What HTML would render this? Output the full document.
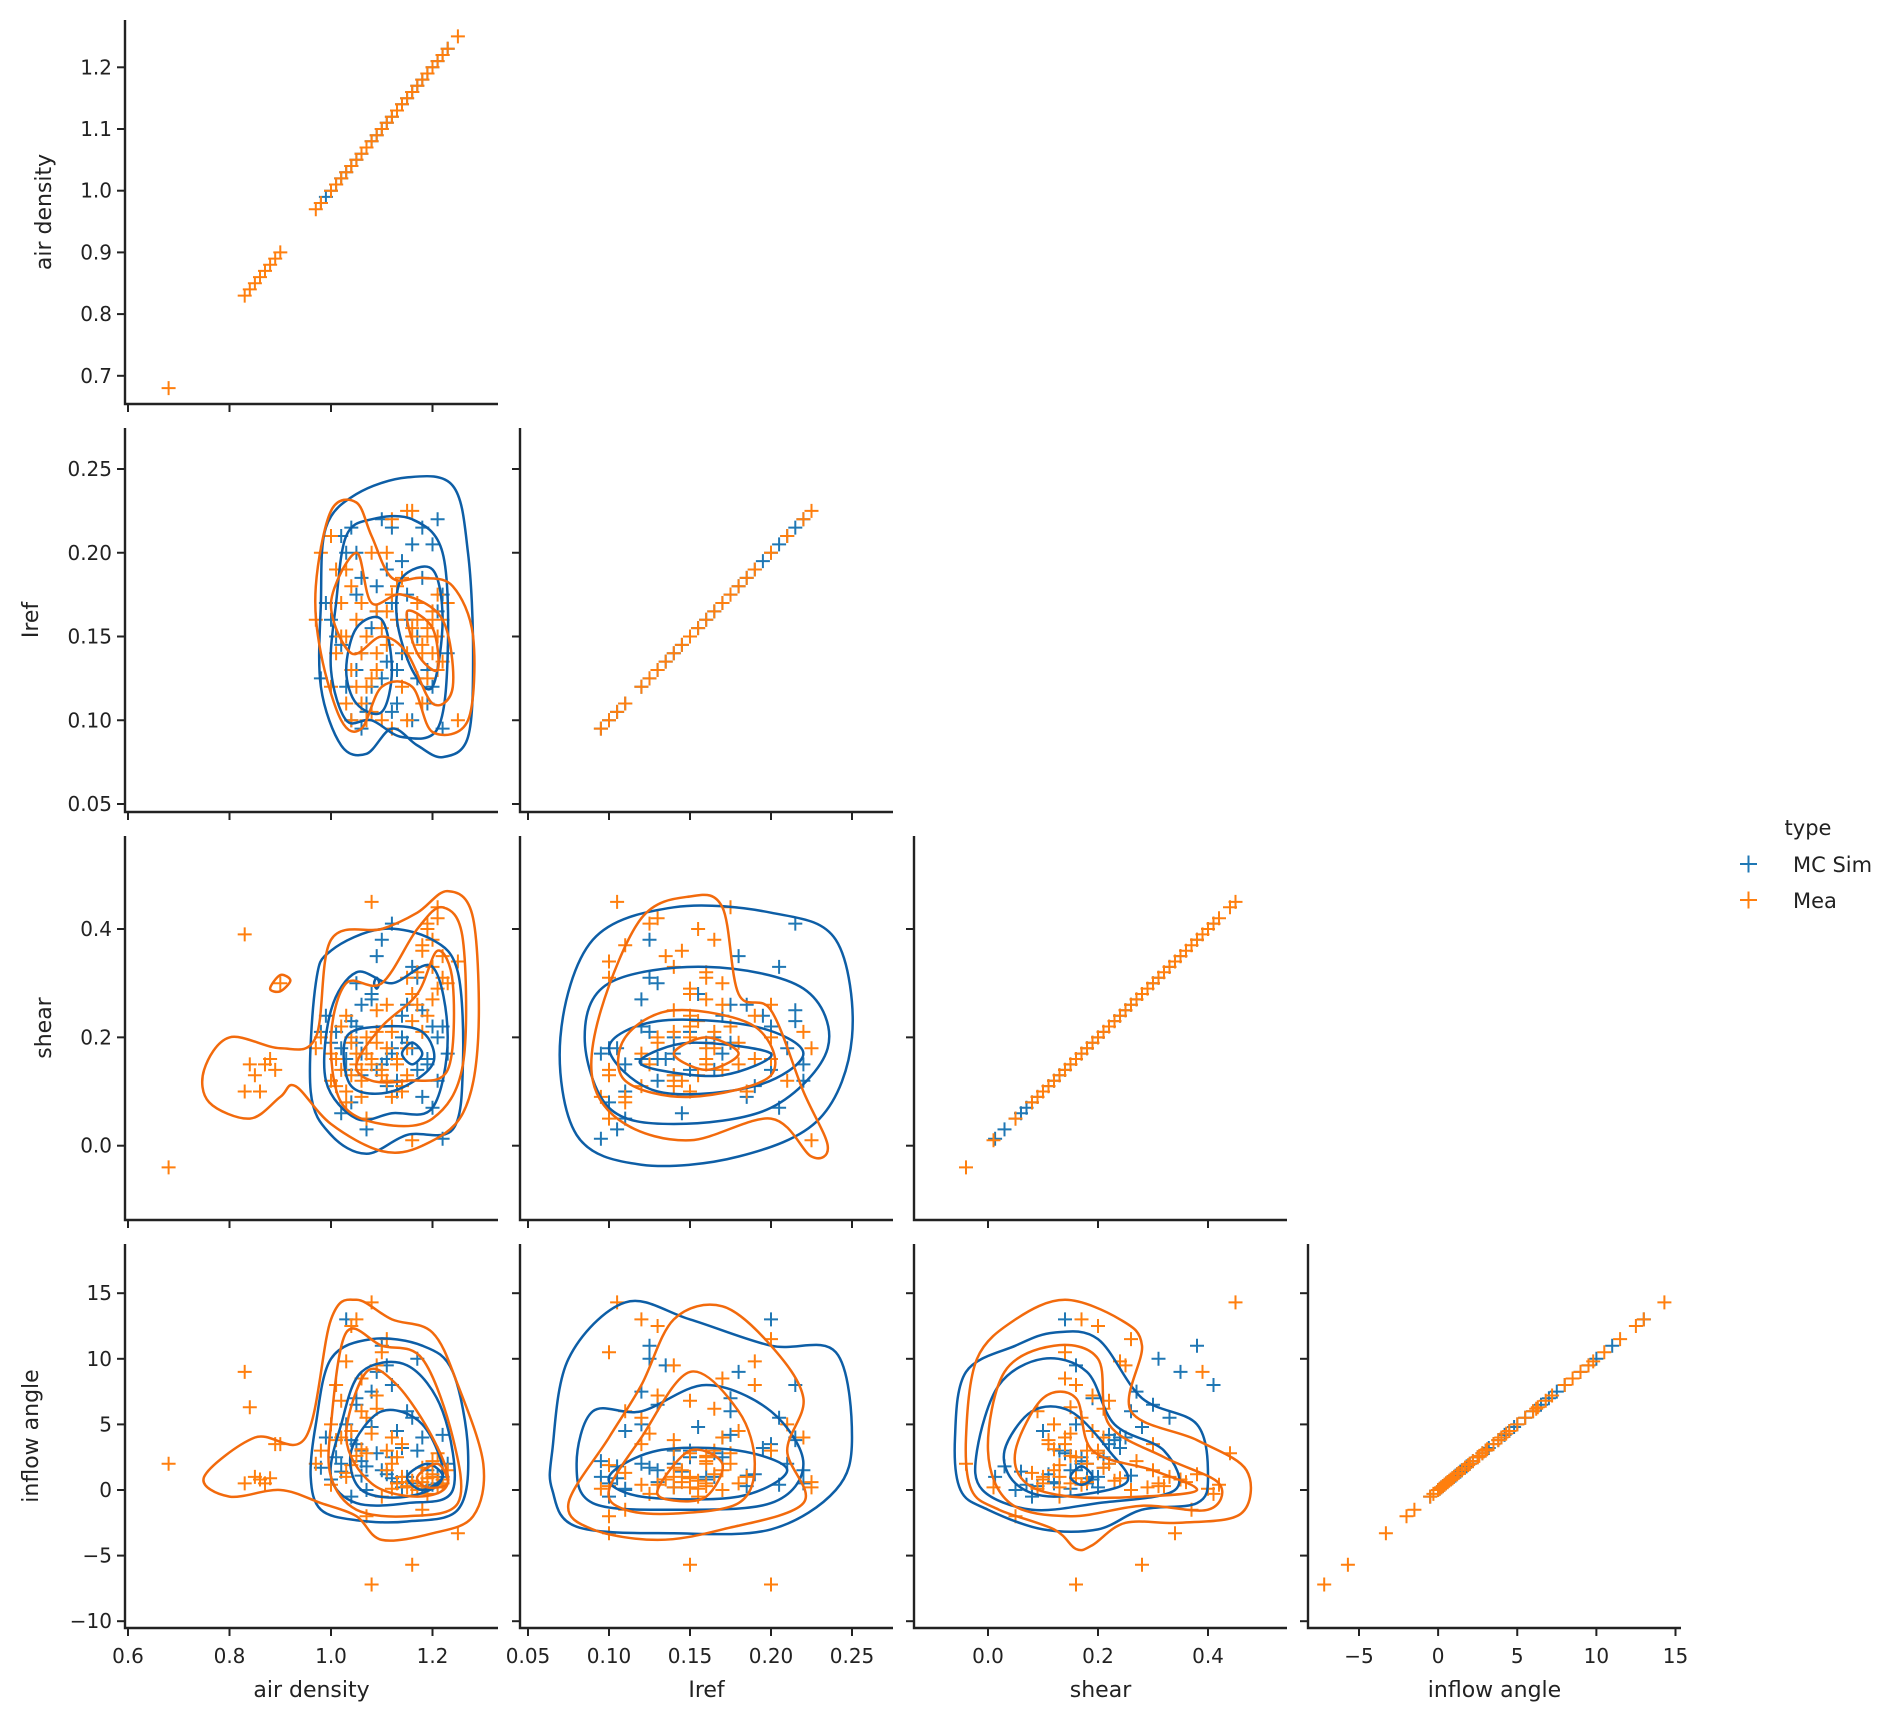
<!DOCTYPE html>
<html><head><meta charset="utf-8">
<style>
html,body{margin:0;padding:0;background:#fff;}
svg{display:block;font-family:"DejaVu Sans","Liberation Sans",sans-serif;}
</style></head>
<body>
<svg id="chart" width="1892" height="1722" viewBox="0 0 1892 1722" xmlns="http://www.w3.org/2000/svg">
<rect x="0" y="0" width="1892" height="1722" fill="#fff"/>
<g id="legend">
  <text x="1808" y="835" font-size="21" text-anchor="middle" fill="#222">type</text>
  <g>
    <path d="M1740 864h17M1748.5 855.5v17" stroke="#1f77b4" stroke-width="2" fill="none"/>
    <text x="1793" y="872" font-size="21" fill="#222">MC Sim</text>
  </g>
  <g>
    <path d="M1740 900h17M1748.5 891.5v17" stroke="#ff7f0e" stroke-width="2" fill="none"/>
    <text x="1793" y="908" font-size="21" fill="#222">Mea</text>
  </g>
</g>
</svg>
<script>
// ---------- data ----------
const varNames = ["air density","Iref","shear","inflow angle"];
const mcAir    = [1.02,1.05,1.10,1.18,1.21,1.12,1.15,1.17,1.14,1.19,1.20,1.13,1.16,1.22,1.03,1.05,1.07,1.04,1.08,1.06,1.01,0.99,1.09,1.11,1.00,1.03,1.10,1.12,1.07,1.15,1.18,1.21,1.23,1.04,1.06,1.13,1.08,1.02,1.16,1.19,1.05,1.11,0.98,1.14,1.09,1.20,1.17,1.06,1.12,1.22];
const mcIref   = [0.21,0.20,0.22,0.215,0.22,0.17,0.16,0.15,0.14,0.13,0.12,0.11,0.10,0.095,0.12,0.13,0.11,0.10,0.12,0.14,0.15,0.17,0.18,0.19,0.16,0.20,0.125,0.215,0.105,0.175,0.185,0.165,0.14,0.215,0.095,0.13,0.155,0.145,0.205,0.11,0.175,0.135,0.125,0.195,0.165,0.205,0.125,0.185,0.105,0.175];
const mcShear  = [0.18,0.22,0.15,0.25,0.12,0.17,0.19,0.14,0.20,0.16,0.22,0.10,0.18,0.013,0.16,0.30,0.05,0.08,0.27,0.13,0.21,0.24,0.35,0.11,0.19,0.14,0.38,0.41,0.03,0.26,0.09,0.20,0.17,0.23,0.17,0.12,0.28,0.06,0.33,0.15,0.19,0.16,0.21,0.24,0.14,0.07,0.31,0.26,0.18,0.22];
const mcInflow = [2,3.5,1.5,4,0.5,2.5,1,3,0.2,1.5,2,4.5,0.5,1,5,6.5,0,-0.5,7.5,3,2.5,4,9,1.2,0.8,13,11,8,1.8,6,0.3,1,2,3.8,2.2,0.6,4.8,1.4,5.5,0.1,7,9.5,1.7,3.2,2.8,0.4,10,1.1,0.9,4.2];

const meaAir    = [0.68,0.83,0.84,0.85,0.86,0.87,0.88,0.89,0.90,0.83,0.97,0.98,1.00,1.01,1.02,1.03,1.04,1.05,1.06,1.07,1.08,1.09,1.10,1.11,1.12,1.13,1.14,1.15,1.16,1.17,1.18,1.19,1.20,1.21,1.22,1.23,1.25,1.20,1.19,1.18,1.21,1.17,1.22,1.20,1.16,1.08,1.05,1.04,1.06,1.07,1.03,1.02,1.09,1.10,1.11,1.12,1.13,1.14,1.15,1.06,1.01,1.00,1.04,1.07,1.03,1.08,1.11,1.09,1.18,1.19,1.21,1.12,1.15,1.16];
const meaIref   = [null,null,null,null,null,null,null,null,null,null,0.16,0.20,0.21,0.19,0.17,0.15,0.13,0.12,0.11,0.10,0.105,0.14,0.155,0.165,0.175,0.18,0.185,0.14,0.15,0.16,0.145,0.155,0.165,0.13,0.135,0.17,0.10,0.16,0.15,0.14,0.15,0.17,0.16,0.14,0.155,0.20,0.16,0.18,0.14,0.12,0.11,0.15,0.13,0.10,0.20,0.22,0.16,0.12,0.10,0.17,0.14,0.12,0.10,0.15,0.19,0.125,0.145,0.165,0.11,0.125,0.175,0.095,0.225,0.225];
const meaShear  = [-0.04,0.39,0.15,0.13,0.10,0.15,0.16,0.14,0.30,0.10,0.18,0.20,0.12,0.16,0.14,0.10,0.20,0.17,0.09,0.05,0.45,0.25,0.13,0.18,0.22,0.15,0.10,0.13,0.28,0.32,0.36,0.40,0.38,0.42,0.35,0.30,0.34,0.27,0.24,0.21,0.29,0.26,0.31,0.33,0.23,0.16,0.15,0.19,0.12,0.17,0.08,0.22,0.19,0.14,0.26,0.21,0.16,0.11,0.31,0.14,0.11,0.17,0.13,0.20,0.24,0.15,0.12,0.21,0.37,0.41,0.44,0.09,0.18,0.01];
const meaInflow = [2,9,6.3,1,0.8,0.5,0.9,3.5,3.5,0.5,2,3,5,8,4,1,12.5,13,6,-2,14.3,9.5,-0.5,3,2,0.5,1,0.2,-5.7,0.3,0.6,0.1,1.2,0.4,0.8,1.5,-3.3,2.2,0.9,1.7,0.2,0,0.5,1,0.7,-7.2,2.6,4.5,3.1,5.5,1.3,6.8,7.2,10.5,11.5,4,2.5,3.5,0.3,8.5,3.8,0.4,1.9,2.8,9.8,4.3,1.5,6.2,-1.5,-0.3,2.8,0.1,0.6,0.2];

// KDE contour levels (data coordinates) per lower panel
const kdeIrefAirMc = [
 [[0.98,0.17],[0.99,0.215],[1.05,0.235],[1.15,0.245],[1.24,0.24],[1.27,0.2],[1.28,0.14],[1.27,0.09],[1.22,0.078],[1.17,0.085],[1.12,0.095],[1.07,0.08],[1.02,0.085],[0.98,0.12]],
 [[1.01,0.17],[1.03,0.21],[1.08,0.22],[1.16,0.22],[1.22,0.2],[1.23,0.14],[1.21,0.095],[1.14,0.09],[1.08,0.1],[1.03,0.1],[1.0,0.13]],
 [[1.05,0.155],[1.1,0.16],[1.12,0.13],[1.1,0.105],[1.05,0.11],[1.03,0.13]],
 [[1.14,0.185],[1.2,0.19],[1.22,0.16],[1.2,0.12],[1.16,0.13],[1.13,0.16]]];
const kdeIrefAirMea = [
 [[0.97,0.18],[1.0,0.225],[1.05,0.23],[1.08,0.21],[1.12,0.185],[1.18,0.185],[1.24,0.18],[1.28,0.15],[1.27,0.1],[1.2,0.093],[1.16,0.12],[1.1,0.12],[1.06,0.095],[1.02,0.1],[0.98,0.14]],
 [[1.0,0.17],[1.05,0.2],[1.08,0.17],[1.14,0.175],[1.22,0.16],[1.24,0.12],[1.2,0.11],[1.15,0.14],[1.1,0.15],[1.04,0.14]],
 [[1.15,0.165],[1.2,0.155],[1.21,0.13],[1.17,0.14]]];
const kdeShearAirMc = [
 [[0.97,0.3],[1.0,0.36],[1.1,0.4],[1.2,0.38],[1.25,0.32],[1.26,0.15],[1.24,0.03],[1.15,0.02],[1.07,-0.015],[1.0,0.02],[0.96,0.1]],
 [[1.0,0.25],[1.05,0.32],[1.12,0.3],[1.2,0.33],[1.23,0.2],[1.2,0.07],[1.12,0.06],[1.05,0.05],[0.99,0.12]],
 [[1.03,0.2],[1.1,0.22],[1.18,0.21],[1.2,0.15],[1.12,0.1],[1.04,0.11]],
 [[1.14,0.17],[1.16,0.19],[1.18,0.17],[1.16,0.15]],
 [[1.085,0.3],[1.09,0.31],[1.095,0.3],[1.09,0.29]]];
const kdeShearAirMea = [
 [[0.75,0.14],[0.8,0.2],[0.9,0.18],[0.97,0.2],[1.0,0.38],[1.1,0.4],[1.17,0.43],[1.23,0.47],[1.28,0.42],[1.29,0.2],[1.26,0.06],[1.18,0.0],[1.1,-0.01],[1.0,0.04],[0.93,0.11],[0.9,0.09],[0.84,0.05],[0.76,0.08]],
 [[1.0,0.2],[1.03,0.3],[1.1,0.3],[1.17,0.4],[1.22,0.44],[1.26,0.38],[1.26,0.15],[1.2,0.05],[1.1,0.04],[1.02,0.08]],
 [[1.05,0.15],[1.1,0.22],[1.17,0.28],[1.21,0.36],[1.24,0.3],[1.23,0.14],[1.15,0.12],[1.08,0.12]],
 [[0.88,0.29],[0.9,0.315],[0.92,0.305],[0.9,0.285]]];
const kdeShearIrefMc = [
 [[0.07,0.2],[0.09,0.38],[0.14,0.44],[0.2,0.43],[0.24,0.38],[0.25,0.2],[0.23,0.05],[0.18,-0.02],[0.12,-0.035],[0.08,0.02]],
 [[0.085,0.2],[0.1,0.3],[0.16,0.33],[0.22,0.29],[0.235,0.18],[0.2,0.07],[0.14,0.04],[0.1,0.07]],
 [[0.1,0.18],[0.13,0.23],[0.19,0.22],[0.22,0.17],[0.19,0.11],[0.13,0.1]],
 [[0.12,0.16],[0.15,0.19],[0.2,0.17],[0.17,0.13],[0.13,0.14]]];
const kdeShearIrefMea = [
 [[0.095,0.25],[0.12,0.42],[0.15,0.46],[0.17,0.44],[0.18,0.28],[0.2,0.25],[0.22,0.1],[0.235,0.0],[0.225,-0.02],[0.2,0.05],[0.15,0.01],[0.11,0.04],[0.09,0.12]],
 [[0.11,0.2],[0.14,0.25],[0.19,0.22],[0.2,0.13],[0.15,0.09],[0.11,0.12]],
 [[0.14,0.17],[0.16,0.2],[0.18,0.17],[0.16,0.14]]];
const kdeInflowAirMc = [
 [[0.97,5],[1.0,10],[1.08,11.5],[1.18,11],[1.24,9],[1.27,3],[1.25,-1.5],[1.15,-2.4],[1.05,-2.3],[0.98,-1.5],[0.96,1]],
 [[1.02,5],[1.06,9],[1.15,9.5],[1.22,6],[1.24,0],[1.15,-1],[1.05,-1],[1.0,1]],
 [[1.04,3],[1.1,6],[1.18,5],[1.22,1],[1.15,-0.5],[1.06,0]],
 [[1.15,1],[1.19,2],[1.22,1],[1.18,0]]];
const kdeInflowAirMea = [
 [[0.75,1],[0.85,4],[0.95,4],[1.0,13],[1.05,14.5],[1.12,13],[1.2,12],[1.25,8],[1.3,2],[1.28,-2],[1.2,-3.3],[1.1,-3.8],[1.05,-2],[0.98,-1],[0.9,0],[0.8,-0.5]],
 [[1.0,5],[1.03,12],[1.1,11],[1.18,10],[1.24,4],[1.25,-1],[1.15,-2],[1.05,-1.5],[1.0,1]],
 [[1.03,4],[1.07,9],[1.13,8],[1.2,4],[1.23,0.5],[1.17,-0.5],[1.08,0.5]],
 [[1.17,1],[1.21,2],[1.23,0.5],[1.19,0.2]]];
const kdeInflowIrefMc = [
 [[0.065,3],[0.075,10],[0.11,14.3],[0.15,13],[0.2,11],[0.24,10.5],[0.25,4],[0.24,0],[0.2,-3],[0.14,-3.3],[0.08,-2.8],[0.065,0]],
 [[0.08,2],[0.09,6],[0.12,6],[0.16,8],[0.2,6],[0.22,2],[0.2,-1],[0.14,-1.5],[0.09,-1]],
 [[0.1,1],[0.13,3],[0.18,3],[0.21,1.5],[0.18,-0.5],[0.12,-0.5]]];
const kdeInflowIrefMea = [
 [[0.075,-1],[0.1,4],[0.12,8],[0.14,13],[0.17,14],[0.2,11],[0.22,7],[0.21,3],[0.22,-1],[0.17,-3],[0.13,-3.8],[0.09,-3]],
 [[0.1,0],[0.12,4],[0.15,9],[0.18,6],[0.19,2],[0.18,-1],[0.14,-1.8],[0.11,-1.5]],
 [[0.13,0],[0.15,3],[0.17,2],[0.16,-0.5],[0.14,-0.8]]];
const kdeInflowShearMc = [
 [[-0.06,4],[-0.04,9],[0.05,11],[0.12,12],[0.2,11.5],[0.28,7],[0.38,5],[0.4,1],[0.38,-1],[0.28,-1.5],[0.2,-3],[0.1,-3],[0.0,-1.5],[-0.05,0]],
 [[-0.02,3],[0.02,8],[0.1,10],[0.18,9],[0.23,5],[0.32,3],[0.34,0],[0.2,-1],[0.08,-1.5],[-0.01,0]],
 [[0.03,3],[0.08,6],[0.15,6],[0.22,3],[0.25,0.5],[0.12,-0.5],[0.05,0.5]],
 [[0.15,1],[0.17,1.8],[0.19,1],[0.17,0.4]]];
const kdeInflowShearMea = [
 [[-0.04,4],[-0.02,10],[0.05,13],[0.14,14.5],[0.24,13],[0.28,11],[0.26,6],[0.38,3.8],[0.47,1.5],[0.46,-1.8],[0.35,-2.5],[0.25,-2.5],[0.19,-4.2],[0.16,-4.5],[0.12,-3],[0.02,-1.5],[-0.03,0]],
 [[0.0,3],[0.03,9],[0.12,11],[0.2,10],[0.22,5],[0.32,2.5],[0.42,0.5],[0.4,-1.5],[0.28,-1.2],[0.15,-2],[0.04,-1]],
 [[0.05,3],[0.1,7],[0.16,7],[0.19,3],[0.3,1.5],[0.38,0],[0.28,-0.5],[0.15,-0.5],[0.07,0.5]]];

const xTicks = [[0.6,0.8,1.0,1.2],[0.05,0.10,0.15,0.20,0.25],[0.0,0.2,0.4],[-5,0,5,10,15]];
const xTickLabels = [["0.6","0.8","1.0","1.2"],["0.05","0.10","0.15","0.20","0.25"],["0.0","0.2","0.4"],["\u22125","0","5","10","15"]];
const yTicks = [[0.7,0.8,0.9,1.0,1.1,1.2],[0.05,0.10,0.15,0.20,0.25],[0.0,0.2,0.4],[-10,-5,0,5,10,15]];
const yTickLabels = [["0.7","0.8","0.9","1.0","1.1","1.2"],["0.05","0.10","0.15","0.20","0.25"],["0.0","0.2","0.4"],["\u221210","\u22125","0","5","10","15"]];

// ---------- layout / scales ----------
const colLeft=[125,520,914,1308], panelW=373;
const rowTop=[20,428,836,1244], panelH=384;
const xScale=[v=>128+(v-0.6)*507.5, v=>528+(v-0.05)*1620, v=>988+v*550, v=>1359+(v+5)*15.825];
const yScale=[v=>67.3+(1.2-v)*617, v=>469+(0.25-v)*1675, v=>1145.7-v*541.75, v=>1490-v*13.12];
const series=[
 {name:"mc-sim", color:"#1f77b4", line:"#0d5ea6", vals:[mcAir,mcIref,mcShear,mcInflow]},
 {name:"mea", color:"#ff7f0e", line:"#f26a0c", vals:[meaAir,meaIref,meaShear,meaInflow]}];
const kde={"1-0":[kdeIrefAirMc,kdeIrefAirMea],"2-0":[kdeShearAirMc,kdeShearAirMea],"2-1":[kdeShearIrefMc,kdeShearIrefMea],
 "3-0":[kdeInflowAirMc,kdeInflowAirMea],"3-1":[kdeInflowIrefMc,kdeInflowIrefMea],"3-2":[kdeInflowShearMc,kdeInflowShearMea]};

const NS="http://www.w3.org/2000/svg";
const svg=document.getElementById("chart");
function mk(tag,attrs,parent){const e=document.createElementNS(NS,tag);for(const k in attrs)e.setAttribute(k,attrs[k]);parent.appendChild(e);return e;}
function smooth(pts){
  const n=pts.length;let d="M"+pts[0][0].toFixed(1)+" "+pts[0][1].toFixed(1);
  for(let i=0;i<n;i++){
    const p0=pts[(i-1+n)%n],p1=pts[i],p2=pts[(i+1)%n],p3=pts[(i+2)%n];
    const c1=[p1[0]+(p2[0]-p0[0])/6,p1[1]+(p2[1]-p0[1])/6];
    const c2=[p2[0]-(p3[0]-p1[0])/6,p2[1]-(p3[1]-p1[1])/6];
    d+="C"+c1[0].toFixed(1)+" "+c1[1].toFixed(1)+" "+c2[0].toFixed(1)+" "+c2[1].toFixed(1)+" "+p2[0].toFixed(1)+" "+p2[1].toFixed(1);
  }
  return d+"Z";
}

for(let r=0;r<4;r++){
  for(let c=0;c<=r;c++){
    const g=mk("g",{},svg);
    
    
    const x0=colLeft[c], y0=rowTop[r], y1=y0+panelH;
    const cp=mk("clipPath",{id:"cp"+r+c},g);
    mk("rect",{x:x0,y:y0,width:panelW,height:panelH},cp);
    const plot=mk("g",{"clip-path":"url(#cp"+r+c+")"},g);
    series.forEach(s=>{
      const sg=mk("g",{stroke:s.color,"stroke-width":2,fill:"none"},plot);
      
      
      const xs=s.vals[c], ys=s.vals[r];
      let d="";
      for(let i=0;i<xs.length;i++){
        if(xs[i]===null||ys[i]===null) continue;
        const px=xScale[c](xs[i]), py=yScale[r](ys[i]);
        d+="M"+(px-7).toFixed(1)+" "+py.toFixed(1)+"h14M"+px.toFixed(1)+" "+(py-7).toFixed(1)+"v14";
      }
      const p=mk("path",{d:d},sg);
      
      
    });
    const k=kde[r+"-"+c];
    if(k){
      k.forEach((levels,si)=>{
        levels.forEach(lv=>{
          const pts=lv.map(q=>[xScale[c](q[0]),yScale[r](q[1])]);
          const p=mk("path",{d:smooth(pts),fill:"none",stroke:series[si].line,"stroke-width":2.5},plot);
          
          
        });
      });
    }
    const ax=mk("g",{stroke:"#222","stroke-width":2.4,fill:"none"},g);
    
    
    mk("path",{d:"M"+x0+" "+y0+"V"+y1+"H"+(x0+panelW)},ax);
    xTicks[c].forEach((t,i)=>{
      const px=xScale[c](t);
      mk("path",{d:"M"+px+" "+y1+"v8","stroke-width":2},ax);
      if(r===3){
        const tx=mk("text",{x:px,y:y1+35,"font-size":20,"text-anchor":"middle",fill:"#222",stroke:"none"},g);
        tx.textContent=xTickLabels[c][i];
        
        
      }
    });
    yTicks[r].forEach((t,i)=>{
      const py=yScale[r](t);
      mk("path",{d:"M"+x0+" "+py+"h-8","stroke-width":2},ax);
      if(c===0){
        const ty=mk("text",{x:x0-13,y:py+7,"font-size":20,"text-anchor":"end",fill:"#222",stroke:"none"},g);
        ty.textContent=yTickLabels[r][i];
        
        
      }
    });
    if(c===0){
      const lx=(r===1||r===3)?38:51, ly=y0+panelH/2;
      const yl=mk("text",{x:lx,y:ly,"font-size":22,"text-anchor":"middle",fill:"#222",transform:"rotate(-90 "+lx+" "+ly+")"},g);
      yl.textContent=varNames[r];
      
      
    }
    if(r===3){
      const xl=mk("text",{x:x0+panelW/2,y:1697,"font-size":22,"text-anchor":"middle",fill:"#222"},g);
      xl.textContent=varNames[c];
      
      
    }
  }
}
</script>
</body></html>
